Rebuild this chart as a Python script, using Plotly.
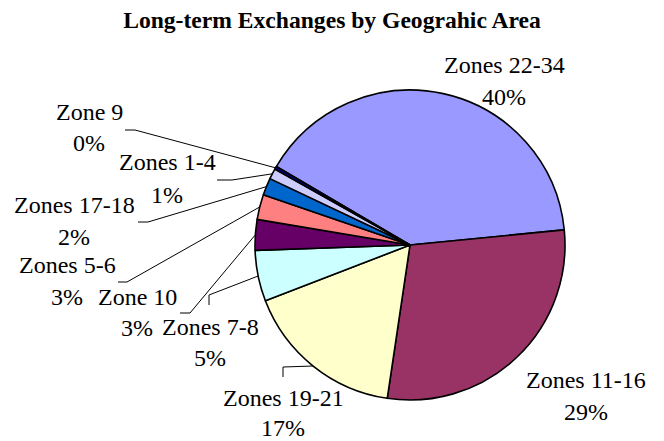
import math
import plotly.graph_objects as go

# data, in clockwise order starting from the top-left edge of the big slice
zones = ["Zones 22-34", "Zones 11-16", "Zones 19-21", "Zones 7-8", "Zone 10",
         "Zones 5-6", "Zones 17-18", "Zones 1-4", "Zone 9"]
shares = [40.0, 28.9, 16.8, 5.3, 3.2, 2.6, 1.8, 1.1, 0.3]
colors = ["#9999FF", "#993366", "#FFFFCC", "#CCFFFF", "#660066",
          "#FF8080", "#0066CC", "#CCCCFF", "#000080"]

W, H = 664, 441
OFF = 8                     # page body margin in the browser
CX, CY, R = 410, 245, 155   # pie centre / radius in px (screen)
START = 149.6               # start edge, math degrees

# label placement (screen px): centre x, first line y, line gap, leader elbow points
label_pos = {
    "Zones 22-34": (504, 65, 32, None),
    "Zones 11-16": (586, 380, 32, None),
    "Zones 19-21": (283, 398, 30, [(283, 377), (283, 367)]),
    "Zones 7-8": (210, 327, 31, [(209, 305), (209, 295)]),
    "Zone 10": (137, 297, 31, [(180, 313), (190, 313)]),
    "Zones 5-6": (67, 265, 32, [(118, 282), (127, 282)]),
    "Zones 17-18": (74, 205, 32, [(138, 222), (148, 222)]),
    "Zones 1-4": (167, 162, 33, [(217, 180), (232, 180)]),
    "Zone 9": (89, 112, 31, [(125, 130), (135, 130)]),
}

FONT = "Liberation Serif"


def px(x, y):
    return (x - OFF) / W, 1 - (y - OFF) / H


fig = go.Figure(go.Pie(
    labels=zones,
    values=shares,
    sort=False,
    direction="clockwise",
    rotation=90 - START,
    textinfo="none",
    hoverinfo="label+percent",
    marker=dict(colors=colors, line=dict(color="black", width=1.6)),
    domain=dict(x=[(CX - OFF - R) / W, (CX - OFF + R) / W],
                y=[(H - (CY - OFF) - R) / H, (H - (CY - OFF) + R) / H]),
    showlegend=False,
))

total = sum(shares)
cum = 0
annotations = []
shapes = []
for name, v in zip(zones, shares):
    mid = math.radians(START - (cum + v / 2) / total * 360)
    cum += v
    x, y1, gap, elbow = label_pos[name]
    pct = f"{int(v / total * 100 + 0.5)}%"
    for txt, yy in ((name, y1), (pct, y1 + gap)):
        ax, ay = px(x, yy)
        annotations.append(dict(x=ax, y=ay, xref="paper", yref="paper",
                                text=txt, showarrow=False,
                                xanchor="center", yanchor="middle",
                                font=dict(family=FONT, size=24, color="black")))
    if elbow:
        ex, ey = CX + R * math.cos(mid), CY - R * math.sin(mid)
        pts = [px(a, b) for a, b in elbow + [(ex, ey)]]
        path = "M " + " L ".join(f"{a},{b}" for a, b in pts)
        shapes.append(dict(type="path", path=path, xref="paper", yref="paper",
                           line=dict(color="black", width=1)))

tx, ty = px(332, 20)
fig.update_layout(
    width=W, height=H,
    margin=dict(l=0, r=0, t=0, b=0),
    paper_bgcolor="white",
    plot_bgcolor="white",
    title=dict(text="<b>Long-term Exchanges by Geograhic Area</b>",
               x=tx, xanchor="center", y=ty, yanchor="middle",
               font=dict(family=FONT, size=23.6, color="black")),
    annotations=annotations,
    shapes=shapes,
)

fig.write_html("out.html")
